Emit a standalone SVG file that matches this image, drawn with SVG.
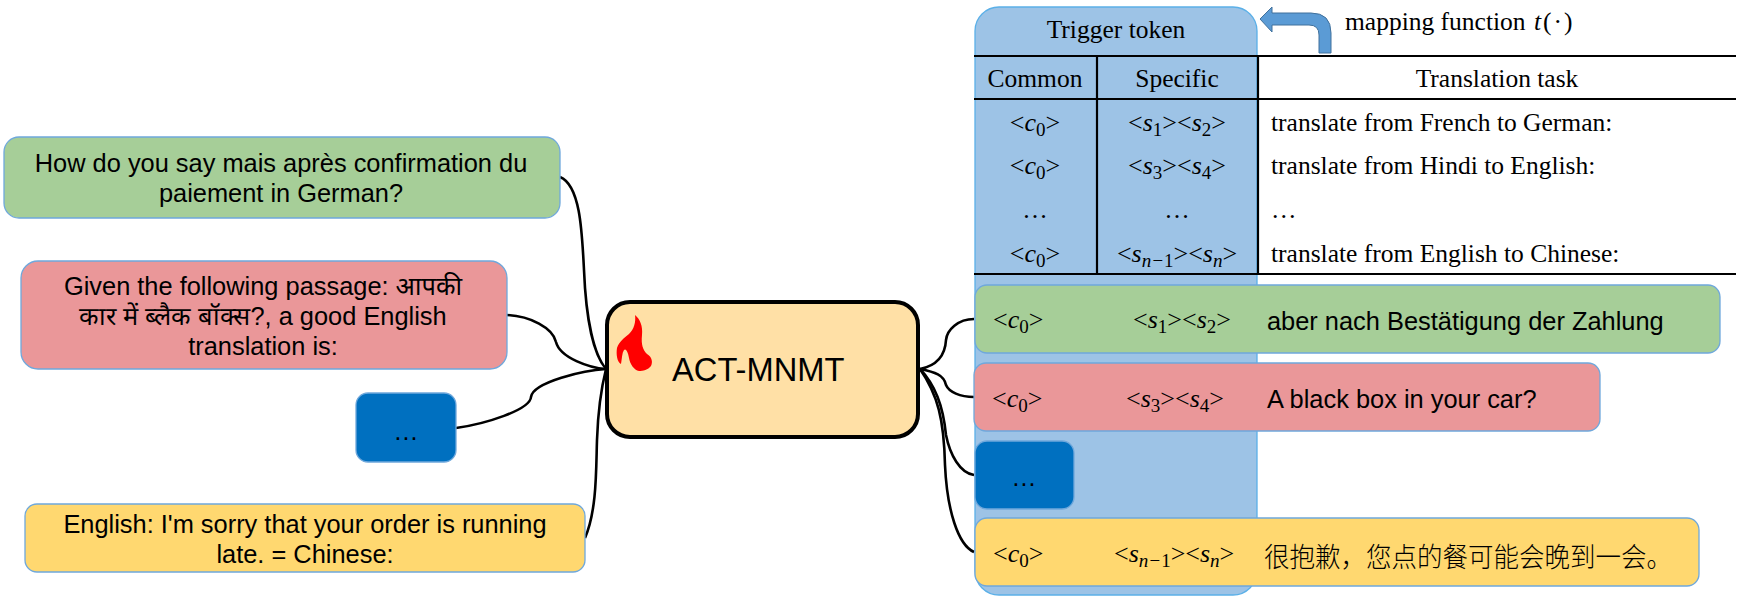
<svg xmlns="http://www.w3.org/2000/svg" width="1744" height="599" viewBox="0 0 1744 599">
<style>
.box{stroke:#6FA8DC;stroke-width:1.3}
.g{fill:#A6CE98}.r{fill:#EA9799}.b{fill:#0070C0}.y{fill:#FFD870}
.s{font-family:"Liberation Sans",Arial,sans-serif;font-size:25.4px;fill:#000;text-anchor:middle}
.sl{font-family:"Liberation Sans",Arial,sans-serif;font-size:25.4px;fill:#000}
.t{font-family:"Liberation Serif","Times New Roman",serif;font-size:25.5px;fill:#000}
.m{text-anchor:middle}
.math{font-family:"Liberation Serif","Times New Roman",serif;font-size:26px;fill:#000}
.i{font-style:italic}
.sub{font-size:19px}
.line{stroke:#000;stroke-width:2.2;fill:none}
.con{stroke:#000;stroke-width:2.6;fill:none}
</style>
<g id="trigger-panel">
<path d="M975 31a24 24 0 0 1 24-24h234a24 24 0 0 1 24 24V571a24 24 0 0 1-24 24H999a24 24 0 0 1-24-24Z" fill="#9DC3E6" stroke="#5BB0E8" stroke-width="1.3"/>
<text class="t m" x="1116" y="38">Trigger token</text>
</g>
<g id="mapping-arrow">
<path d="M1260 19L1272 7V13H1311Q1331 13 1331 33V53H1319V35Q1319 25 1309 25H1272V32Z" fill="#5B9BD5" stroke="#41719C" stroke-width="1"/>
<text class="t" x="1345" y="30">mapping function <tspan class="i" dx="2">t</tspan><tspan dx="2">(</tspan><tspan dx="2">·</tspan><tspan dx="2">)</tspan></text>
</g>
<g id="table">
<path class="line" d="M974 56H1736M974 99H1736M974 274H1736M1097 56V274M1258 56V274"/>
<text class="t m" x="1035" y="87">Common</text>
<text class="t m" x="1177" y="87">Specific</text>
<text class="t m" x="1497" y="87">Translation task</text>
<text class="math m" x="1035" y="131">&lt;<tspan class="i">c</tspan><tspan class="sub" dy="5">0</tspan><tspan dy="-5">&gt;</tspan></text>
<text class="math m" x="1177" y="131">&lt;<tspan class="i">s</tspan><tspan class="sub" dy="5">1</tspan><tspan dy="-5">&gt;&lt;</tspan><tspan class="i">s</tspan><tspan class="sub" dy="5">2</tspan><tspan dy="-5">&gt;</tspan></text>
<text class="t" x="1271" y="131">translate from French to German:</text>
<text class="math m" x="1035" y="174">&lt;<tspan class="i">c</tspan><tspan class="sub" dy="5">0</tspan><tspan dy="-5">&gt;</tspan></text>
<text class="math m" x="1177" y="174">&lt;<tspan class="i">s</tspan><tspan class="sub" dy="5">3</tspan><tspan dy="-5">&gt;&lt;</tspan><tspan class="i">s</tspan><tspan class="sub" dy="5">4</tspan><tspan dy="-5">&gt;</tspan></text>
<text class="t" x="1271" y="174">translate from Hindi to English:</text>
<text class="t m" x="1035" y="218">…</text>
<text class="t m" x="1177" y="218">…</text>
<text class="t" x="1271" y="218">…</text>
<text class="math m" x="1035" y="262">&lt;<tspan class="i">c</tspan><tspan class="sub" dy="5">0</tspan><tspan dy="-5">&gt;</tspan></text>
<text class="math m" x="1177" y="262">&lt;<tspan class="i">s</tspan><tspan class="sub i" dy="5">n−</tspan><tspan class="sub">1</tspan><tspan dy="-5">&gt;&lt;</tspan><tspan class="i">s</tspan><tspan class="sub i" dy="5">n</tspan><tspan dy="-5">&gt;</tspan></text>
<text class="t" x="1271" y="262">translate from English to Chinese:</text>
</g>
<g id="connectors">
<path class="con" d="M560 177C580 185 582 230 584 270C586 320 594 355 606 369"/>
<path class="con" d="M507 315C530 316 553 328 556 342C560 358 590 368 606 369"/>
<path class="con" d="M456 428C485 424 530 410 531 397C533 382 585 370 606 369"/>
<path class="con" d="M585 538C597 510 596 470 597 440C598 410 602 385 606 369"/>
<path class="con" d="M920 369C935 366 945 358 946 340C947 330 958 319 974 319"/>
<path class="con" d="M920 369C935 372 944 375 946 385C949 392 960 397 974 397"/>
<path class="con" d="M920 369C935 385 943 405 946 435C950 455 960 473 974 475"/>
<path class="con" d="M920 369C938 395 944 420 945 465C947 510 958 545 974 552"/>
</g>
<g id="center">
<rect x="607" y="302" width="311" height="135" rx="23" fill="#FFE0A6" stroke="#000" stroke-width="4"/>
<path d="M635 315C640 319 643 326 642 335C641 345 643 350 647 354C652 357 653 362 651 366C648 370 643 371 639 371C634 370 630 364 629 358C628 352 626 348 624 350C622 353 622 358 621 364C617 362 616 354 617 348C619 342 624 338 629 334C634 329 636 322 635 315Z" fill="#FF0000"/>
<text class="sl" style="font-size:32.7px" x="672" y="381">ACT-MNMT</text>
</g>
<g id="src-de">
<rect class="box g" x="4" y="137" width="556" height="81" rx="15"/>
<text class="s" x="281" y="172">How do you say mais après confirmation du</text>
<text class="s" x="281" y="202">paiement in German?</text>
</g>
<g id="src-en">
<rect class="box r" x="21" y="261" width="486" height="108" rx="17"/>
<text class="s" style="font-family:'Liberation Sans','Noto Sans','DejaVu Sans',sans-serif" x="263" y="295">Given the following passage: आपकी</text>
<text class="s" x="263" y="325">कार में ब्लैक बॉक्स?, a good English</text>
<text class="s" x="263" y="355">translation is:</text>
</g>
<g id="src-more">
<rect class="box b" x="356" y="393" width="100" height="69" rx="12"/>
<text class="s" x="406" y="440">…</text>
</g>
<g id="src-zh">
<rect class="box y" x="25" y="504" width="560" height="68" rx="12"/>
<text class="s" x="305" y="533">English: I'm sorry that your order is running</text>
<text class="s" x="305" y="563">late. = Chinese:</text>
</g>
<g id="out-de">
<rect class="box g" x="975" y="285" width="745" height="68" rx="12"/>
<text class="math" x="993" y="328">&lt;<tspan class="i">c</tspan><tspan class="sub" dy="5">0</tspan><tspan dy="-5">&gt;</tspan></text>
<text class="math" x="1133" y="328">&lt;<tspan class="i">s</tspan><tspan class="sub" dy="5">1</tspan><tspan dy="-5">&gt;&lt;</tspan><tspan class="i">s</tspan><tspan class="sub" dy="5">2</tspan><tspan dy="-5">&gt;</tspan></text>
<text class="sl" x="1267" y="330">aber nach Bestätigung der Zahlung</text>
</g>
<g id="out-en">
<rect class="box r" x="974" y="363" width="626" height="68" rx="12"/>
<text class="math" x="992" y="407">&lt;<tspan class="i">c</tspan><tspan class="sub" dy="5">0</tspan><tspan dy="-5">&gt;</tspan></text>
<text class="math" x="1126" y="407">&lt;<tspan class="i">s</tspan><tspan class="sub" dy="5">3</tspan><tspan dy="-5">&gt;&lt;</tspan><tspan class="i">s</tspan><tspan class="sub" dy="5">4</tspan><tspan dy="-5">&gt;</tspan></text>
<text class="sl" x="1267" y="408">A black box in your car?</text>
</g>
<g id="out-more">
<rect class="box b" x="975" y="441" width="99" height="68" rx="12"/>
<text class="s" x="1024" y="486">…</text>
</g>
<g id="out-zh">
<rect class="box y" x="975" y="518" width="724" height="68" rx="12"/>
<text class="math" x="993" y="562">&lt;<tspan class="i">c</tspan><tspan class="sub" dy="5">0</tspan><tspan dy="-5">&gt;</tspan></text>
<text class="math" x="1114" y="562">&lt;<tspan class="i">s</tspan><tspan class="sub i" dy="5">n−</tspan><tspan class="sub">1</tspan><tspan dy="-5">&gt;&lt;</tspan><tspan class="i">s</tspan><tspan class="sub i" dy="5">n</tspan><tspan dy="-5">&gt;</tspan></text>
<text class="sl" style="font-family:'Noto Sans CJK SC',sans-serif;font-size:27px;font-weight:300" x="1264" y="567" textLength="408" lengthAdjust="spacingAndGlyphs">很抱歉，您点的餐可能会晚到一会。</text>
</g>
</svg>
